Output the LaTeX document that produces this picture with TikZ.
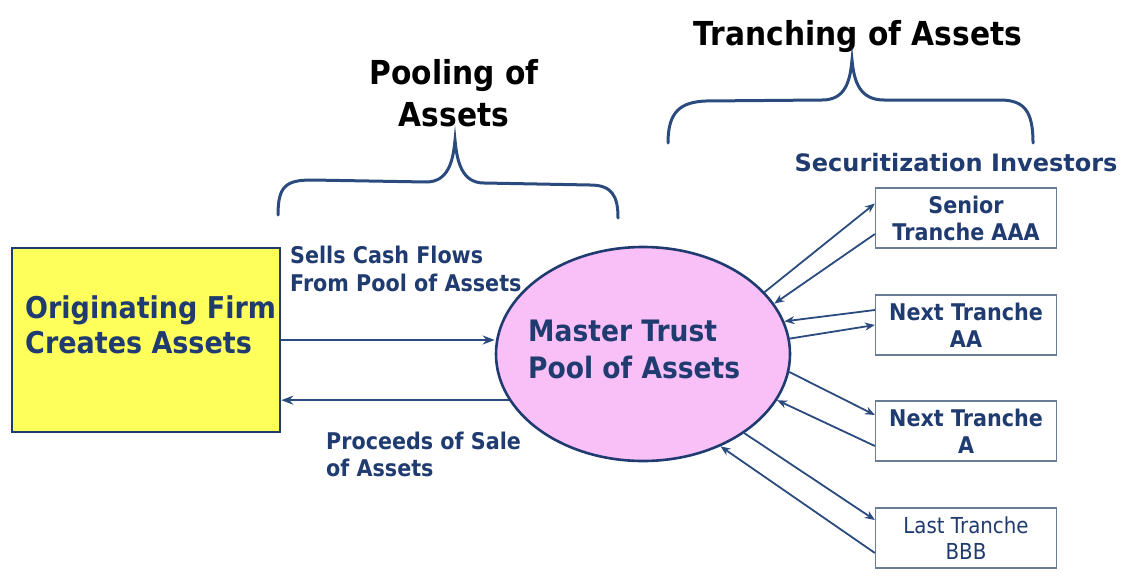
\documentclass[tikz,border=0pt]{standalone}
\usepackage{fontspec}
\setmainfont{Lato}
\newfontfamily\headfont[FakeStretch=0.9]{DejaVu Sans}
\newfontfamily\investfont{DejaVu Sans}
\usetikzlibrary{shapes.geometric, arrows.meta}
\definecolor{navy}{HTML}{1F3B70}
\definecolor{linecol}{HTML}{2B4A7D}
\definecolor{firmyellow}{HTML}{FFFF5C}
\definecolor{poolpink}{HTML}{F8C0F6}
\definecolor{boxline}{HTML}{6B7C96}

\begin{document}
\begin{tikzpicture}[x=1pt, y=-1pt,
    heading/.style={font=\headfont\bfseries\fontsize{33}{42}\selectfont, align=center, inner sep=0},
    bluetext/.style={text=navy, align=left, inner sep=0},
    tranche/.style={draw=boxline, line width=1.2pt, fill=white, minimum width=181, minimum height=60,
                    text=navy, align=center, inner sep=0, font=\headfont\bfseries\fontsize{23}{27}\selectfont},
    arr/.style={-{Stealth[length=10pt, width=8pt]}, draw=linecol, line width=1.8pt},
    bigarr/.style={-{Stealth[length=12pt, width=9pt]}, draw=linecol, line width=2.6pt},
    brace/.style={draw=linecol, line width=3pt, line cap=round}]
  \useasboundingbox (0,0) rectangle (1123,578);

  % headings and braces
  \node[heading] (tranching) at (858, 37) {Tranching of Assets};
  \node[heading] (pooling) at (454, 93) {Pooling of\\Assets};
  \draw[brace] (278,215) .. controls (278,186) and (286,180) .. (312,180) -- (426,182)
    .. controls (448,182) and (453,162) .. (455,140)
    .. controls (457,162) and (462,183) .. (484,183) -- (590,185)
    .. controls (612,185) and (618,196) .. (618,218);
  \draw[brace] (668,143) .. controls (668,112) and (680,102) .. (706,101) -- (822,100)
    .. controls (845,100) and (850,82) .. (852,60)
    .. controls (854,82) and (860,100) .. (884,100) -- (1000,100)
    .. controls (1025,100) and (1033,112) .. (1033,143);

  % originator and trust
  \node[draw=navy, line width=2.6pt, fill=firmyellow, minimum width=268, minimum height=184] (firm) at (146,340) {};
  \node[bluetext, anchor=west, font=\headfont\bfseries\fontsize{30}{35}\selectfont] (firmtext) at (25,325) {Originating Firm\\Creates Assets};
  \node[ellipse, draw=navy, line width=2.6pt, fill=poolpink, minimum width=294, minimum height=214, inner sep=0] (pool) at (643,354) {};
  \node[bluetext, anchor=west, font=\headfont\bfseries\fontsize{29.5}{37}\selectfont] (pooltext) at (528,349) {Master Trust\\Pool of Assets};
  \node[bluetext, anchor=west, font=\headfont\bfseries\fontsize{23}{28}\selectfont] (sells) at (290,269) {Sells Cash Flows\\From Pool of Assets};
  \node[bluetext, anchor=west, font=\headfont\bfseries\fontsize{23}{27}\selectfont] (proceeds) at (326,454) {Proceeds of Sale\\of Assets};
  \draw (firm.east) edge[bigarr] (firm.east -| pool.west);
  \draw (pool.199) edge[bigarr] (firm.east |- pool.199);

  % investors
  \node[text=navy, inner sep=0, font=\investfont\bfseries\fontsize{24}{28}\selectfont] (investors) at (956,163) {Securitization Investors};
  \node[tranche] (t1) at (966,218) {Senior\\Tranche AAA};
  \node[tranche] (t2) at (966,325) {Next Tranche\\AA};
  \node[tranche] (t3) at (966,431) {Next Tranche\\A};
  \node[tranche, font=\headfont\fontsize{22}{26}\selectfont] (t4) at (966,538) {Last Tranche\\BBB};
  \draw (pool.27) edge[arr] ([yshift=14.5]t1.west);
  \draw ([yshift=-16]t1.west) edge[arr] (pool.21);
  \draw ([yshift=15]t2.west) edge[arr] (pool.13);
  \draw (pool.6) edge[arr] (t2.west);
  \draw (pool.-7) edge[arr] ([yshift=16]t3.west);
  \draw ([yshift=-15]t3.west) edge[arr] (pool.-19);
  \draw (pool.-38) edge[arr] ([yshift=18]t4.west);
  \draw ([yshift=-15]t4.west) edge[arr] (pool.-50);
\end{tikzpicture}
\end{document}
